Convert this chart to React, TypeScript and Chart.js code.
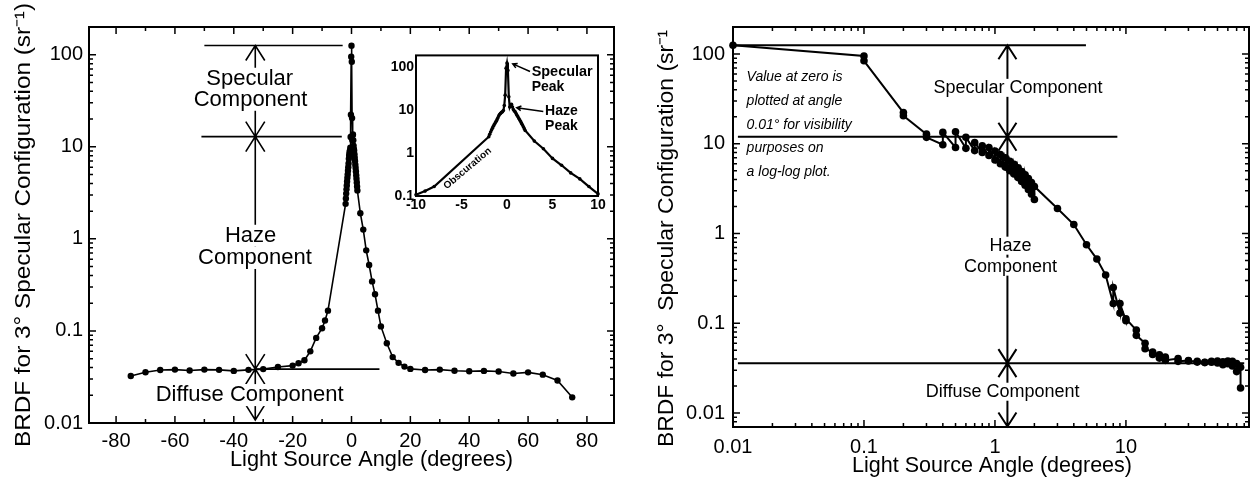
import React, { useEffect, useRef } from 'react';
import { Chart, registerables } from 'chart.js';
Chart.register(...registerables);

const FONT = '"Liberation Sans", Arial, Helvetica, sans-serif';

// Measured BRDF (sr^-1) versus light source angle (degrees)
const angles = [
  -75, -70, -65, -60, -55, -50, -45, -40, -35, -30, -25, -20, -18, -16, -14, -12, -10, -9, -8,
  -2, -1.9, -1.8, -1.7, -1.6, -1.5, -1.4, -1.3, -1.2, -1.1, -1, -0.9, -0.8, -0.7, -0.6, -0.5, -0.4, -0.3, -0.2, -0.1,
  0,
  0.1, 0.2, 0.3, 0.4, 0.5, 0.6, 0.7, 0.8, 0.9, 1, 1.1, 1.2, 1.3, 1.4, 1.5, 1.6, 1.7, 1.8, 1.9, 2,
  3, 4, 5, 6, 7, 8, 9, 10, 12, 14, 16, 18, 20, 25, 30, 35, 40, 45, 50, 55, 60, 65, 70, 75,
];
const brdf = [
  0.0324, 0.0356, 0.0377, 0.038, 0.0372, 0.038, 0.0378, 0.0368, 0.0378, 0.0385, 0.0405, 0.042, 0.0446, 0.048, 0.06, 0.084, 0.107, 0.13, 0.166,
  2.4, 2.75, 3.1, 3.45, 3.8, 4.2, 4.6, 5.0, 5.5, 6.0, 6.6, 7.4, 8.0, 8.4, 8.9, 9.1, 9.75, 12.8, 22.3, 95,
  125,
  84, 20.5, 11.8, 13.4, 13.6, 11.8, 10.3, 9.5, 9.1, 8.3, 7.6, 7.0, 6.4, 5.9, 5.4, 4.9, 4.5, 4.1, 3.7, 3.35,
  1.9, 1.26, 0.75, 0.52, 0.345, 0.25, 0.166, 0.112, 0.0735, 0.052, 0.045, 0.041, 0.0387,
  0.0377, 0.038, 0.037, 0.0365, 0.0368, 0.0362, 0.0345, 0.0355, 0.0335, 0.029, 0.019,
];
const ZERO_ANGLE_PLOT = 0.01;

// Tick values
const leftXMajor = [-80, -60, -40, -20, 0, 20, 40, 60, 80];
const leftXMinor = [-70, -50, -30, -10, 10, 30, 50, 70];
const decadesY = [0.01, 0.1, 1, 10, 100];
const rightXDecades = [0.01, 0.1, 1, 10];
const insetXTicks = [-10, -5, 0, 5, 10];
const insetYTicks = [0.1, 1, 10, 100];
const minorMult = [2, 3, 4, 5, 6, 7, 8, 9];

// Annotation values (data coordinates)
const leftRefLines = [
  { y: 126, x1: -50, x2: -3 },
  { y: 12.9, x1: -51, x2: -3.3 },
  { y: 0.0385, x1: -32.7, x2: 9.5 },
];
const leftArrowX = -32.7;
const leftArrowStops = [126, 12.9, 0.0385, 0.0108];
const leftLabels = [
  { t: 'Specular', x: -34.6, y: 54.8 },
  { t: 'Component', x: -34.3, y: 32.4 },
  { t: 'Haze', x: -34.3, y: 1.08 },
  { t: 'Component', x: -32.8, y: 0.62 },
  { t: 'Diffuse Component', x: -34.6, y: 0.0201 },
];
const rightRefLines = [
  { y: 125, x1: 0.01, x2: 4.95 },
  { y: 12, x1: 0.0109, x2: 8.6 },
  { y: 0.036, x1: 0.0109, x2: 80 },
];
const rightArrowX = 1.245;
const rightArrowStops = [125, 12, 0.036, 0.0071];
const rightLabels = [
  { t: 'Specular Component', x: 1.5, y: 42 },
  { t: 'Haze', x: 1.315, y: 0.733 },
  { t: 'Component', x: 1.315, y: 0.428 },
  { t: 'Diffuse Component', x: 1.146, y: 0.0173 },
];
const rightNote = ['Value at zero is', 'plotted at angle', '0.01\u00b0 for visibility', 'purposes on', 'a log-log plot.'];
const rightNotePos = { x: 0.0127, y: 55.2 };
const insetLabels = [
  { t: 'Specular', x: 2.71, y: 76.4 },
  { t: 'Peak', x: 2.71, y: 34.6 },
  { t: 'Haze', x: 4.18, y: 9.25 },
  { t: 'Peak', x: 4.18, y: 4.19 },
];
const insetArrows = [
  { x1: 2.53, y1: 79.4, x2: 0.63, y2: 119 },
  { x1: 3.99, y1: 9.25, x2: 1.07, y2: 11.4 },
];
const obscurationLabel = { t: 'Obscuration', x: -4.34, y: 0.44, angle: -40 };

const Y_TITLE = 'BRDF for 3\u00b0 Specular Configuration (sr\u207b\u00b9)';
const Y_TITLE_R = 'BRDF for 3\u00b0  Specular Configuration (sr\u207b\u00b9';
const X_TITLE = 'Light Source Angle (degrees)';

function logMinors(decades: number[]) {
  const out: number[] = [];
  decades.forEach((d) => minorMult.forEach((m) => out.push(d * m)));
  return out;
}

function drawText(ctx: any, text: string, x: number, y: number, font: string, o: any = {}) {
  ctx.save();
  ctx.font = font;
  ctx.translate(x, y);
  if (o.rotate) ctx.rotate(o.rotate);
  const w = ctx.measureText(text).width;
  if (o.width) ctx.scale(o.width / w, 1);
  ctx.textAlign = o.align || 'center';
  ctx.textBaseline = 'middle';
  if (o.bg) {
    ctx.fillStyle = '#fff';
    const x0 = ctx.textAlign === 'center' ? -w / 2 : 0;
    ctx.fillRect(x0 - 3, -o.bg / 2, w + 6, o.bg);
  }
  ctx.fillStyle = '#000';
  ctx.fillText(text, 0, 0);
  ctx.restore();
}

function frame(cfg: any) {
  return {
    id: 'frameTicks',
    afterDraw(chart: any) {
      const { ctx, chartArea: a } = chart;
      const x = chart.scales.x;
      const y = chart.scales.y;
      ctx.save();
      ctx.strokeStyle = '#000';
      ctx.lineWidth = cfg.tickWidth || 1.5;
      ctx.beginPath();
      const xt = (vals: number[], len: number) =>
        vals.forEach((v) => {
          const p = x.getPixelForValue(v);
          if (p < a.left + 1 || p > a.right - 1) return;
          ctx.moveTo(p, a.bottom); ctx.lineTo(p, a.bottom - len);
          ctx.moveTo(p, a.top); ctx.lineTo(p, a.top + len);
        });
      const yt = (vals: number[], len: number) =>
        vals.forEach((v) => {
          const p = y.getPixelForValue(v);
          if (p < a.top + 1 || p > a.bottom - 1) return;
          ctx.moveTo(a.left, p); ctx.lineTo(a.left + len, p);
          ctx.moveTo(a.right, p); ctx.lineTo(a.right - len, p);
        });
      xt(cfg.xMajor || [], cfg.major);
      xt(cfg.xMinor || [], cfg.minor);
      yt(cfg.yMajor || [], cfg.major);
      yt(cfg.yMinor || [], cfg.minor);
      ctx.stroke();
      ctx.lineWidth = cfg.frameWidth || 2;
      ctx.strokeRect(a.left, a.top, a.right - a.left, a.bottom - a.top);
      ctx.restore();
      (cfg.titles || []).forEach((t: any) => drawText(ctx, t.t, t.x, t.y, t.font, t.o));
    },
  };
}

function componentsPlugin(cfg: any) {
  return {
    id: 'components',
    afterDatasetsDraw(chart: any) {
      const { ctx } = chart;
      const x = chart.scales.x;
      const y = chart.scales.y;
      ctx.save();
      ctx.strokeStyle = '#000';
      ctx.lineWidth = cfg.lineWidth;
      ctx.beginPath();
      cfg.refLines.forEach((r: any) => {
        const py = y.getPixelForValue(r.y);
        ctx.moveTo(x.getPixelForValue(r.x1), py);
        ctx.lineTo(x.getPixelForValue(r.x2), py);
      });
      const px = x.getPixelForValue(cfg.arrowX);
      const stops = cfg.stops.map((v: number) => y.getPixelForValue(v));
      ctx.moveTo(px, stops[0]);
      ctx.lineTo(px, stops[stops.length - 1]);
      const hw = cfg.headW, hh = cfg.headH;
      stops.forEach((s: number, i: number) => {
        if (i < stops.length - 1) { // head pointing up (from below)
          ctx.moveTo(px - hw, s + hh); ctx.lineTo(px, s); ctx.lineTo(px + hw, s + hh);
        }
        if (i > 0) { // head pointing down (from above)
          ctx.moveTo(px - hw, s - hh); ctx.lineTo(px, s); ctx.lineTo(px + hw, s - hh);
        }
      });
      ctx.stroke();
      ctx.restore();
      cfg.labels.forEach((l: any) =>
        drawText(ctx, l.t, x.getPixelForValue(l.x), y.getPixelForValue(l.y), cfg.font, { bg: cfg.bg })
      );
      if (cfg.note) {
        const nx = x.getPixelForValue(cfg.note.pos.x);
        const ny = y.getPixelForValue(cfg.note.pos.y);
        cfg.note.lines.forEach((t: string, i: number) =>
          drawText(ctx, t, nx, ny + i * cfg.note.spacing, cfg.note.font, { align: 'left' })
        );
      }
    },
  };
}

const insetPlugin = {
  id: 'insetNotes',
  afterDatasetsDraw(chart: any) {
    const { ctx } = chart;
    const x = chart.scales.x;
    const y = chart.scales.y;
    insetLabels.forEach((l) =>
      drawText(ctx, l.t, x.getPixelForValue(l.x), y.getPixelForValue(l.y), `bold 14px ${FONT}`, { align: 'left', width: l.t === 'Specular' ? 61 : undefined })
    );
    ctx.save();
    ctx.strokeStyle = '#000';
    ctx.lineWidth = 1.5;
    ctx.beginPath();
    insetArrows.forEach((a) => {
      const x1 = x.getPixelForValue(a.x1), y1 = y.getPixelForValue(a.y1);
      const x2 = x.getPixelForValue(a.x2), y2 = y.getPixelForValue(a.y2);
      ctx.moveTo(x1, y1); ctx.lineTo(x2, y2);
      const ang = Math.atan2(y2 - y1, x2 - x1);
      const L = 5;
      ctx.moveTo(x2 - L * Math.cos(ang - 0.5), y2 - L * Math.sin(ang - 0.5));
      ctx.lineTo(x2, y2);
      ctx.lineTo(x2 - L * Math.cos(ang + 0.5), y2 - L * Math.sin(ang + 0.5));
    });
    ctx.stroke();
    ctx.restore();
    drawText(ctx, obscurationLabel.t, x.getPixelForValue(obscurationLabel.x), y.getPixelForValue(obscurationLabel.y),
      `bold 10px ${FONT}`, { rotate: (obscurationLabel.angle * Math.PI) / 180 });
  },
};

function axisCommon(size: number, pad: number, bold = false) {
  return {
    grid: { display: false, drawTicks: false },
    border: { display: false },
    ticks: {
      color: '#000',
      font: { family: FONT, size, weight: bold ? 'bold' : 'normal' },
      padding: pad,
      maxRotation: 0,
      autoSkip: false,
      callback: (v: any) => String(v),
    },
  };
}

export default function App() {
  const leftRef = useRef<HTMLCanvasElement>(null);
  const rightRef = useRef<HTMLCanvasElement>(null);
  const insetRef = useRef<HTMLCanvasElement>(null);

  useEffect(() => {
    const leftPts = angles.map((a, i) => ({ x: a, y: brdf[i] }));
    const rightPts = angles
      .map((a, i) => ({ x: a === 0 ? ZERO_ANGLE_PLOT : Math.abs(a), y: brdf[i] }))
      .sort((p, q) => p.x - q.x);
    const insetPts = leftPts.filter((p) => p.x >= -10 && p.x <= 10);

    const base = {
      animation: false as const,
      responsive: false,
      maintainAspectRatio: false,
      devicePixelRatio: 1,
      plugins: { legend: { display: false }, tooltip: { enabled: false } },
      events: [] as any[],
    };

    const left = new Chart(leftRef.current!, {
      type: 'scatter',
      data: {
        datasets: [{
          data: leftPts, showLine: true, borderColor: '#000', backgroundColor: '#000',
          borderWidth: 1.6, pointRadius: 3.2, pointBorderWidth: 0, clip: false as any,
        }],
      },
      options: {
        ...base,
        layout: { padding: { top: 27, right: 16, left: 0, bottom: 0 } },
        scales: {
          x: {
            type: 'linear', min: -89.2, max: 89.2, ...axisCommon(20, 6),
            afterBuildTicks: (s: any) => { s.ticks = leftXMajor.map((v) => ({ value: v })); },
            afterFit: (s: any) => { s.height = 59; },
          } as any,
          y: {
            type: 'logarithmic', min: 0.01, max: 200, ...axisCommon(20, 6),
            afterBuildTicks: (s: any) => { s.ticks = decadesY.map((v) => ({ value: v })); },
            afterFit: (s: any) => { s.width = 89; },
          } as any,
        },
      },
      plugins: [
        componentsPlugin({
          refLines: leftRefLines, arrowX: leftArrowX, stops: leftArrowStops, labels: leftLabels,
          font: `22px ${FONT}`, bg: 22, lineWidth: 1.6, headW: 9.5, headH: 15,
        }),
        frame({
          xMajor: leftXMajor, xMinor: leftXMinor, yMajor: decadesY, yMinor: logMinors([0.01, 0.1, 1, 10, 100]),
          major: 7, minor: 4, frameWidth: 2,
          titles: [
            { t: Y_TITLE, x: 24, y: 225, font: `22px ${FONT}`, o: { rotate: -Math.PI / 2, width: 444 } },
            { t: X_TITLE, x: 371.5, y: 460, font: `22px ${FONT}`, o: { width: 283 } },
          ],
        }),
      ],
    } as any);

    const right = new Chart(rightRef.current!, {
      type: 'scatter',
      data: {
        datasets: [{
          data: rightPts, showLine: true, borderColor: '#000', backgroundColor: '#000',
          borderWidth: 2, pointRadius: 3.8, pointBorderWidth: 0, clip: false as any,
        }],
      },
      options: {
        ...base,
        layout: { padding: { top: 27, right: 8, left: 0, bottom: 0 } },
        scales: {
          x: {
            type: 'logarithmic', min: 0.01, max: 87, ...axisCommon(20, 8),
            afterBuildTicks: (s: any) => { s.ticks = rightXDecades.map((v) => ({ value: v })); },
            afterFit: (s: any) => { s.height = 55; },
          } as any,
          y: {
            type: 'logarithmic', min: 0.007, max: 200, ...axisCommon(20, 8),
            afterBuildTicks: (s: any) => { s.ticks = decadesY.map((v) => ({ value: v })); },
            afterFit: (s: any) => { s.width = 103; },
          } as any,
        },
      },
      plugins: [
        componentsPlugin({
          refLines: rightRefLines, arrowX: rightArrowX, stops: rightArrowStops, labels: rightLabels,
          font: `18px ${FONT}`, bg: 18, lineWidth: 2, headW: 9, headH: 14,
          note: { lines: rightNote, pos: rightNotePos, spacing: 23.8, font: `italic 14px ${FONT}` },
        }),
        frame({
          xMajor: rightXDecades, xMinor: logMinors([0.01, 0.1, 1, 10]), yMajor: decadesY,
          yMinor: logMinors([0.001, 0.01, 0.1, 1, 10, 100]),
          major: 7, minor: 4, frameWidth: 2,
          titles: [
            { t: Y_TITLE_R, x: 37, y: 238.5, font: `22px ${FONT}`, o: { rotate: -Math.PI / 2, width: 417 } },
            { t: X_TITLE, x: 362, y: 466, font: `22px ${FONT}`, o: { width: 280 } },
          ],
        }),
      ],
    } as any);

    const inset = new Chart(insetRef.current!, {
      type: 'scatter',
      data: {
        datasets: [{
          data: insetPts, showLine: true, borderColor: '#000', backgroundColor: '#000',
          borderWidth: 2.2, pointRadius: 1.8, pointBorderWidth: 0, clip: false as any,
        }],
      },
      options: {
        ...base,
        layout: { padding: { top: 8, right: 14, left: 0, bottom: 0 } },
        scales: {
          x: {
            type: 'linear', min: -10, max: 10, ...axisCommon(14, 1, true),
            afterBuildTicks: (s: any) => { s.ticks = insetXTicks.map((v) => ({ value: v })); },
            afterFit: (s: any) => { s.height = 24; },
          } as any,
          y: {
            type: 'logarithmic', min: 0.1, max: 188, ...axisCommon(14, 2, true),
            afterBuildTicks: (s: any) => { s.ticks = insetYTicks.map((v) => ({ value: v })); },
            afterFit: (s: any) => { s.width = 26; },
          } as any,
        },
      },
      plugins: [insetPlugin, frame({ major: 0, minor: 0, frameWidth: 2 })],
    } as any);

    return () => { left.destroy(); right.destroy(); inset.destroy(); };
  }, []);

  return (
    <div style={{ position: 'absolute', left: 0, top: 0, width: 1257, height: 482, background: '#fff' }}>
      <canvas ref={leftRef} width={630} height={482} style={{ position: 'absolute', left: 0, top: 0 }} />
      <canvas ref={rightRef} width={627} height={482} style={{ position: 'absolute', left: 630, top: 0 }} />
      <canvas ref={insetRef} width={222} height={175} style={{ position: 'absolute', left: 390, top: 45 }} />
    </div>
  );
}
